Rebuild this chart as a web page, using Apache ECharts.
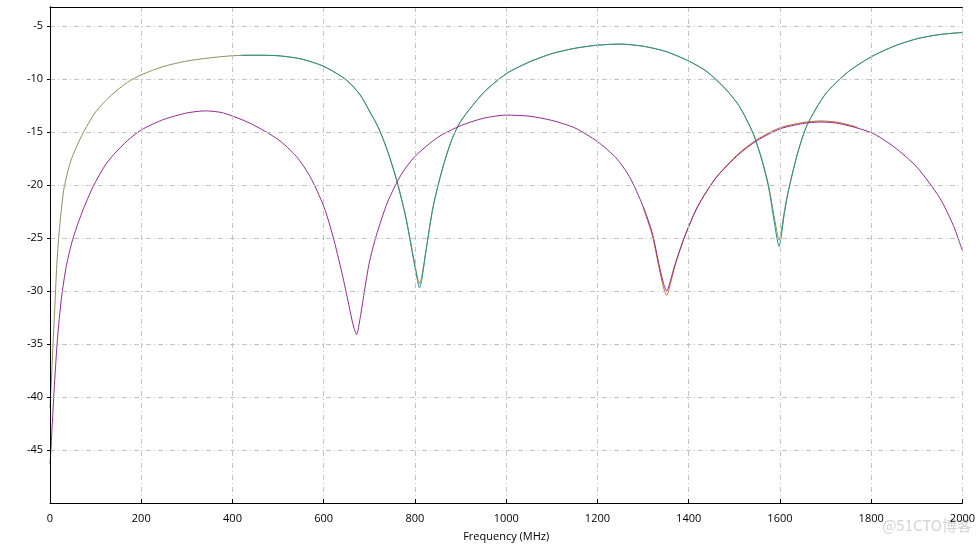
<!DOCTYPE html>
<html>
<head>
<meta charset="utf-8">
<script src="https://cdn.jsdelivr.net/npm/echarts@6/dist/echarts.min.js"></script>
<style>
html,body{margin:0;padding:0;background:#fff;}
#chart{width:978px;height:547px;}
</style>
</head>
<body>
<div id="chart"></div>
<script>
// ---------- data ----------
const xTicks = [0, 200, 400, 600, 800, 1000, 1200, 1400, 1600, 1800, 2000];
const yTicks = [-45, -40, -35, -30, -25, -20, -15, -10, -5];
const xAxisTitle = 'Frequency (MHz)';
const watermark = '@51CTO博客';

// Upper pair (olive + teal)
const freqOlive = [0, 3, 5, 10, 15, 20, 30, 45, 70, 100, 135, 170, 200, 250, 300, 350, 400, 450, 500, 550, 600, 650, 680, 700, 720, 740, 760, 780, 795, 805, 810, 815, 825, 840, 860, 880, 900, 950, 1000, 1050, 1100, 1150, 1200, 1250, 1300, 1350, 1400, 1440, 1480, 1510, 1540, 1560, 1575, 1585, 1593, 1598, 1603, 1610, 1620, 1640, 1660, 1700, 1750, 1800, 1850, 1900, 1950, 2000];
const valOlive  = [-41, -38.5, -36.5, -32, -27.5, -24.5, -20.5, -17.8, -15.3, -13.1, -11.5, -10.3, -9.6, -8.8, -8.3, -8.0, -7.8, -7.75, -7.8, -8.1, -8.8, -10.1, -11.5, -13.0, -14.6, -16.8, -19.5, -23.0, -26.4, -28.6, -29.3, -28.6, -25.9, -22.0, -18.5, -15.8, -14.0, -11.3, -9.5, -8.4, -7.6, -7.1, -6.8, -6.7, -6.9, -7.4, -8.3, -9.3, -10.9, -12.5, -15.0, -17.5, -20.0, -22.4, -24.3, -25.2, -24.3, -22.4, -20.2, -16.8, -14.3, -11.4, -9.3, -7.9, -6.9, -6.2, -5.8, -5.6];

const freqTeal = [420, 450, 500, 550, 600, 650, 680, 700, 720, 740, 760, 780, 795, 805, 810, 815, 825, 840, 860, 880, 900, 950, 1000, 1050, 1100, 1150, 1200, 1250, 1300, 1350, 1400, 1440, 1480, 1510, 1540, 1560, 1575, 1585, 1593, 1598, 1603, 1610, 1620, 1640, 1660, 1700, 1750, 1800, 1850, 1900, 1950, 2000];
const valTeal  = [-7.75, -7.75, -7.8, -8.1, -8.8, -10.1, -11.5, -13.0, -14.6, -16.8, -19.6, -23.1, -26.6, -28.9, -29.7, -28.9, -26.0, -22.0, -18.5, -15.8, -14.0, -11.3, -9.5, -8.4, -7.6, -7.1, -6.8, -6.7, -6.9, -7.4, -8.3, -9.3, -10.9, -12.5, -15.0, -17.6, -20.2, -22.8, -24.9, -25.8, -24.8, -22.6, -20.3, -16.8, -14.3, -11.4, -9.3, -7.9, -6.9, -6.2, -5.8, -5.6];

// Lower pair (purple + orange; orange only shows where it departs from purple)
const freqPurple = [0, 2, 5, 9, 16, 25, 36, 50, 70, 95, 120, 140, 170, 200, 250, 300, 340, 380, 440, 500, 540, 570, 600, 620, 640, 655, 665, 672, 680, 690, 700, 715, 740, 770, 800, 850, 900, 950, 1000, 1050, 1100, 1150, 1200, 1240, 1270, 1300, 1320, 1335, 1345, 1352, 1360, 1370, 1390, 1420, 1460, 1510, 1550, 1600, 1650, 1690, 1730, 1800, 1850, 1900, 1950, 1980, 2000];
const valPurple  = [-46.3, -45, -42.5, -39.4, -34.7, -30.7, -27.6, -25.1, -22.6, -20.1, -18.2, -17.1, -15.8, -14.8, -13.8, -13.2, -13.0, -13.2, -14.2, -15.7, -17.3, -19.2, -22.0, -24.8, -28.3, -31.3, -33.3, -34.1, -32.5, -29.8, -27.3, -24.8, -21.6, -19.0, -17.3, -15.5, -14.4, -13.7, -13.4, -13.5, -13.9, -14.6, -15.9, -17.4, -19.2, -22.0, -24.5, -27.5, -29.3, -30.0, -29.0, -27.5, -25.0, -22.0, -19.3, -17.1, -15.8, -14.7, -14.2, -14.05, -14.2, -15.05, -16.4, -18.3, -21.2, -23.8, -26.2];
const freqOrange = [1300, 1320, 1335, 1345, 1352, 1360, 1370, 1390, 1420, 1460, 1510, 1550, 1600, 1650, 1690, 1730, 1770];
const valOrange  = [-22.1, -24.7, -27.8, -29.7, -30.4, -29.3, -27.6, -25.0, -22.0, -19.3, -17.0, -15.7, -14.6, -14.1, -13.95, -14.1, -14.55];

// ---------- chart ----------
const pairs = (xs, ys) => xs.map((x, i) => [x, ys[i]]);
const FONT = "'Open Sans', 'Noto Sans', sans-serif";
const gridLine = { show: true, lineStyle: { color: '#c4c4c4', width: 1, type: [5, 3, 1, 3] } };
const frameAxis = { show: true, lineStyle: { color: '#000', width: 1 } };

const chart = echarts.init(document.getElementById('chart'), null, { renderer: 'canvas' });
const lineSeries = (name, xs, ys, color, z) => ({
  name, type: 'line', data: pairs(xs, ys), showSymbol: false, symbol: 'none',
  smooth: 0.25, z, animation: false, xAxisIndex: 0, yAxisIndex: 0,
  lineStyle: { color, width: 1 }
});

chart.setOption({
  animation: false,
  backgroundColor: '#ffffff',
  grid: { left: 50, right: 14, top: 7, bottom: 41, show: false },
  xAxis: [{
    type: 'value', min: xTicks[0], max: xTicks[xTicks.length - 1], interval: 200,
    name: xAxisTitle, nameLocation: 'middle', nameGap: 28,
    nameTextStyle: { fontFamily: FONT, fontSize: 11, color: '#000' },
    axisLine: frameAxis,
    axisTick: { show: true, inside: true, length: 4, lineStyle: { color: '#000' } },
    axisLabel: { fontFamily: FONT, fontSize: 11, color: '#000', margin: 10,
      formatter: v => xTicks.includes(v) ? String(v) : '' },
    splitLine: gridLine, z: 10
  }, {
    type: 'value', position: 'top', min: 0, max: 2000,
    axisLine: frameAxis, axisTick: { show: false }, axisLabel: { show: false }, splitLine: { show: false }, z: 10
  }],
  yAxis: [{
    type: 'value', min: -50, max: -3.2, interval: 5,
    axisLine: frameAxis,
    axisTick: { show: true, inside: false, length: 3, lineStyle: { color: '#000' } },
    axisLabel: { fontFamily: FONT, fontSize: 11, color: '#000', margin: 7,
      showMinLabel: false, showMaxLabel: false,
      formatter: v => yTicks.includes(v) ? String(v) : '' },
    splitLine: gridLine, z: 10
  }, {
    type: 'value', position: 'right', min: -50, max: -3.2,
    axisLine: frameAxis, axisTick: { show: false }, axisLabel: { show: false }, splitLine: { show: false }, z: 10
  }],
  graphic: [{
    type: 'text', right: 6, top: 518, silent: true,
    style: { text: watermark, fill: '#d4d4d4', font: "15px 'Noto Sans CJK SC', sans-serif" }
  }],
  series: [
    lineSeries('olive', freqOlive, valOlive, '#8f8f5c', 3),
    lineSeries('teal', freqTeal, valTeal, '#2a8f86', 4),
    lineSeries('orange', freqOrange, valOrange, '#c06a30', 3),
    lineSeries('purple', freqPurple, valPurple, '#902c92', 4)
  ]
});
</script>
</body>
</html>
